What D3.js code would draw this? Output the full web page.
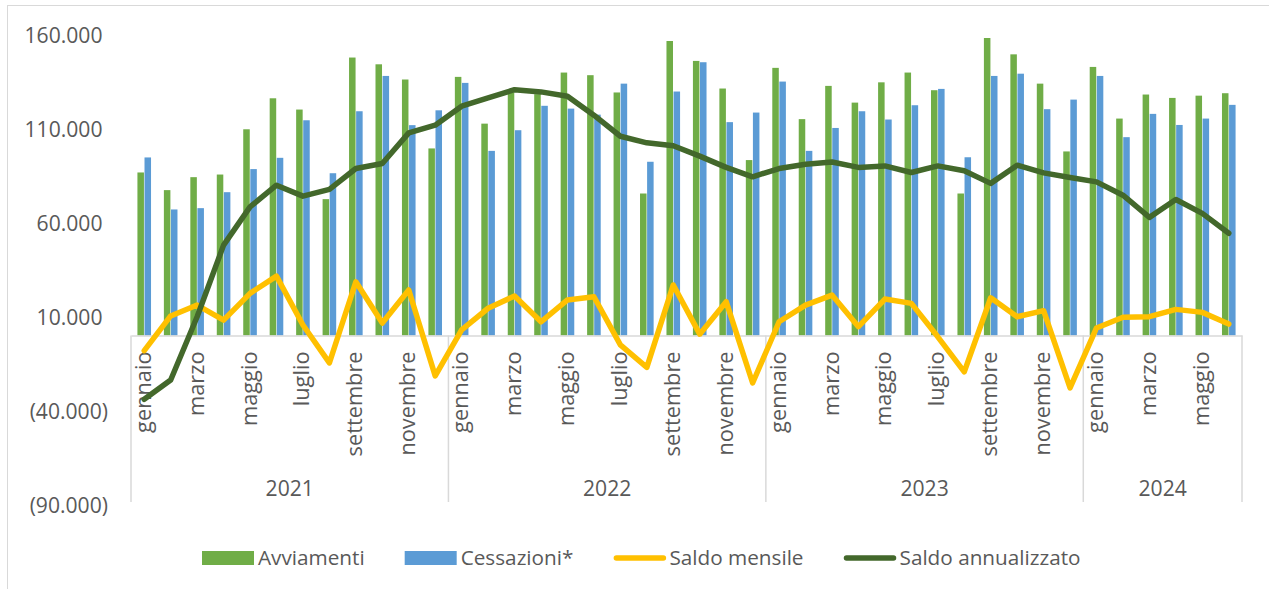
<!DOCTYPE html>
<meta charset="utf-8">
<head>
    <script src="https://cdnjs.cloudflare.com/ajax/libs/d3/7.8.5/d3.min.js"></script>
    <style>
    body { margin: 0; background: #fff; }
    svg { display: block; }
    text { font-family: "Open Sans", sans-serif; fill: #595959; }
    .axis path, .axis line { stroke: #d9d9d9; }
    </style>
</head>
<body>
    <script>
    // categories
    var years = ["2021", "2022", "2023", "2024"];
    var monthsPerYear = [12, 12, 12, 6];
    var monthNames = ["gennaio", "febbraio", "marzo", "aprile", "maggio", "giugno",
                      "luglio", "agosto", "settembre", "ottobre", "novembre", "dicembre"];

    // series values (gen 2021 - giu 2024)
    var avviamenti = [86800, 77400, 84300, 85700, 109800, 126300, 120300, 72600, 148000, 144400, 136300, 99600,
                      137700, 112800, 129500, 128500, 140000, 138600, 129400, 75600, 156800, 146200, 131500, 93400,
                      142500, 115200, 132900, 124000, 134800, 140000, 130600, 75600, 158400, 149700, 134100, 98000,
                      143000, 115500, 128300, 126500, 127700, 129000];
    var cessazioni = [94800, 67100, 67800, 76300, 88600, 94600, 114600, 86400, 119400, 138200, 112000, 119900,
                      134500, 98300, 109300, 122300, 120800, 117600, 134100, 92500, 129900, 145500, 113600, 118700,
                      135200, 98300, 110500, 119400, 115000, 122600, 131300, 94900, 138200, 139400, 120500, 125600,
                      138200, 105600, 118000, 112100, 115500, 122800];
    var saldoMensile = [-8100, 10400, 16200, 8200, 22400, 31600, 5600, -14600, 28600, 6600, 24200, -21500,
                        3000, 14500, 21000, 7300, 18900, 20600, -5000, -17000, 26900, 700, 18000, -25300,
                        7300, 16200, 21500, 4700, 19400, 17100, -700, -19400, 20100, 10000, 13200, -27900,
                        4000, 9700, 10000, 13900, 12300, 6100];
    var saldoAnnualizzato = [-34000, -23700, 10000, 48100, 68500, 80000, 74200, 77800, 88900, 91600, 107900, 112000,
                             122100, 126500, 130900, 129700, 127400, 117300, 106100, 102600, 101000, 95500, 89500, 84500,
                             88900, 91200, 92400, 89500, 90300, 86800, 90300, 87700, 81000, 90700, 86600, 84100,
                             81800, 74700, 62900, 72400, 65000, 54400];

    // y tick values
    var yTicks = [-90000, -40000, 10000, 60000, 110000, 160000];

    var width = 1269, height = 589;
    var n = avviamenti.length;
    var idx = d3.range(n);

    var it = d3.formatLocale({ decimal: ",", thousands: ".", grouping: [3], currency: ["", " €"] });
    var fmt = it.format(",.0f");

    var svg = d3.select("body").append("svg")
        .attr("width", width)
        .attr("height", height);

    // pick a font size so that a sample string gets the wanted width
    function fitSize(sample, target) {
        var t = svg.append("text").style("font-size", "20px").text(sample);
        var w = t.node().getComputedTextLength();
        t.remove();
        return (20 * target / w).toFixed(2) + "px";
    }
    var tickFont = fitSize("160.000", 78);
    var monthFont = fitSize("settembre", 105);
    var legendFont = fitSize("Saldo annualizzato", 181);

    // chart area border (cut by the picture on right and bottom)
    svg.append("rect")
        .attr("x", 7.5).attr("y", 5.5)
        .attr("width", 1400).attr("height", 700)
        .attr("fill", "none")
        .attr("stroke", "#d9d9d9");

    // scales
    var x = d3.scaleBand().domain(idx).range([131, 1242]).padding(0);
    var groupW = 13.6;
    var x1 = d3.scaleBand().domain(["avv", "cess"])
        .range([(x.bandwidth() - groupW) / 2, (x.bandwidth() + groupW) / 2])
        .paddingInner(0.08);
    var y = d3.scaleLinear().domain([-90000, 160000]).range([504.5, 35]);
    var y0 = y(0);

    // y axis (no line, no ticks)
    var yAxis = svg.append("g")
        .attr("class", "axis")
        .attr("transform", "translate(108,0)")
        .call(d3.axisLeft(y).tickValues(yTicks).tickSize(0).tickPadding(0)
            .tickFormat(function(d) { return d < 0 ? "(" + fmt(-d) + ")" : fmt(d); }));
    yAxis.select(".domain").remove();
    yAxis.selectAll("text")
        .style("font-size", tickFont)
        .style("font-family", "\"Open Sans\", sans-serif")
        .style("fill", "#595959")
        .attr("dy", "0.36em")
        .attr("x", function(d) { return d < 0 ? 0 : -5.5; });

    // bars
    var bars = svg.append("g");
    bars.selectAll(".avv").data(idx).enter().append("rect")
        .attr("x", function(i) { return x(i) + x1("avv"); })
        .attr("width", x1.bandwidth())
        .attr("y", function(i) { return y(avviamenti[i]); })
        .attr("height", function(i) { return y0 - y(avviamenti[i]); })
        .attr("fill", "#70ad47");
    bars.selectAll(".cess").data(idx).enter().append("rect")
        .attr("x", function(i) { return x(i) + x1("cess"); })
        .attr("width", x1.bandwidth())
        .attr("y", function(i) { return y(cessazioni[i]); })
        .attr("height", function(i) { return y0 - y(cessazioni[i]); })
        .attr("fill", "#5b9bd5");

    // x axis: months
    var xAxis = svg.append("g")
        .attr("class", "axis")
        .attr("transform", "translate(0," + y0 + ")")
        .call(d3.axisBottom(x)
            .tickValues(idx.filter(function(i) { return i % 2 === 0; }))
            .tickSize(0).tickSizeOuter(0)
            .tickFormat(function(i) { return monthNames[i % 12]; }));
    xAxis.select(".domain").attr("stroke-width", 1.5);
    xAxis.selectAll("text")
        .style("font-size", monthFont)
        .style("font-family", "\"Open Sans\", sans-serif")
        .style("fill", "#595959")
        .attr("transform", "rotate(-90)")
        .attr("text-anchor", "end")
        .attr("x", -16)
        .attr("y", 0)
        .attr("dy", "0.3em");

    // year separators and labels
    var starts = [0];
    monthsPerYear.forEach(function(m, k) { starts.push(starts[k] + m); });
    var edgeX = function(i) { return i >= n ? x.range()[1] : x(i); };
    svg.append("g").selectAll("line").data(starts).enter().append("line")
        .attr("x1", function(i) { return edgeX(i); })
        .attr("x2", function(i) { return edgeX(i); })
        .attr("y1", y0).attr("y2", 502)
        .attr("stroke", "#d9d9d9").attr("stroke-width", 1.5);
    svg.append("g").selectAll("text").data(years).enter().append("text")
        .attr("x", function(d, k) { return (edgeX(starts[k]) + edgeX(starts[k + 1])) / 2; })
        .attr("y", 496)
        .attr("text-anchor", "middle")
        .style("font-size", tickFont)
        .text(function(d) { return d; });

    // lines
    var lineGen = function(arr) {
        return d3.line()
            .x(function(i) { return x(i) + x.bandwidth() / 2; })
            .y(function(i) { return y(arr[i]); })(idx);
    };
    svg.append("path")
        .attr("d", lineGen(saldoMensile))
        .attr("fill", "none")
        .attr("stroke", "#ffc000")
        .attr("stroke-width", 5.5)
        .attr("stroke-linejoin", "round")
        .attr("stroke-linecap", "round");
    svg.append("path")
        .attr("d", lineGen(saldoAnnualizzato))
        .attr("fill", "none")
        .attr("stroke", "#43682b")
        .attr("stroke-width", 5.5)
        .attr("stroke-linejoin", "round")
        .attr("stroke-linecap", "round");

    // legend
    var legendItems = [
        { name: "Avviamenti", color: "#70ad47", type: "rect" },
        { name: "Cessazioni*", color: "#5b9bd5", type: "rect" },
        { name: "Saldo mensile", color: "#ffc000", type: "line" },
        { name: "Saldo annualizzato", color: "#43682b", type: "line" }
    ];
    var legend = svg.append("g");
    var lx = 202, ly = 558;
    legendItems.forEach(function(item) {
        var g = legend.append("g").attr("transform", "translate(" + lx + "," + ly + ")");
        if (item.type === "rect") {
            g.append("rect").attr("x", 0).attr("y", -7).attr("width", 52).attr("height", 14)
                .attr("fill", item.color);
        } else {
            g.append("line").attr("x1", 3).attr("x2", 50).attr("y1", 0).attr("y2", 0)
                .attr("stroke", item.color).attr("stroke-width", 5.5).attr("stroke-linecap", "round");
        }
        var t = g.append("text")
            .attr("x", 56).attr("y", 0).attr("dy", "0.36em")
            .style("font-size", legendFont)
            .text(item.name);
        lx += 56 + t.node().getComputedTextLength() + 40;
    });
    </script>
</body>
</html>
